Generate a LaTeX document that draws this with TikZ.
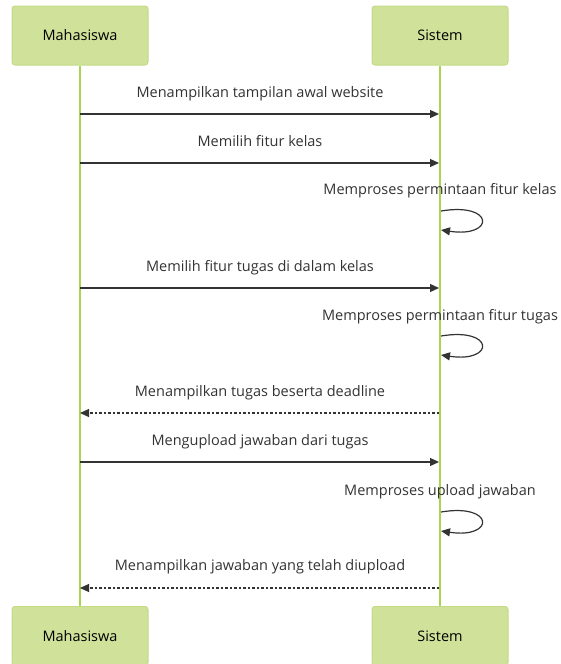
\documentclass[tikz,border=0pt]{standalone}
\usepackage{fontspec}
\setmainfont{Open Sans}
\usetikzlibrary{arrows.meta}
\definecolor{actorfill}{HTML}{D0E29A}
\definecolor{actorline}{HTML}{C2DB84}
\definecolor{lifeline}{HTML}{AAD451}
\definecolor{ink}{HTML}{333333}
\tikzset{
  actor/.style={draw=actorline, fill=actorfill, line width=1pt, rounded corners=3pt,
    minimum width=136pt, minimum height=59pt, inner sep=0pt,
    font=\fontsize{14.5}{16}\selectfont, text=black},
  life/.style={draw=lifeline, line width=2pt},
  msg/.style={draw=ink, line width=1.2pt, -{Triangle[length=9pt,width=8pt]}},
  reply/.style={msg, dash pattern=on 2.5pt off 2pt},
  lbl/.style={font=\fontsize{14.5}{16}\selectfont, text=ink, inner sep=0pt, anchor=base},
}
\begin{document}
\begin{tikzpicture}[x=1pt,y=-1pt]
\useasboundingbox (0,0) rectangle (561,664);
% actors
\node[actor] (mt) at (80,35.5) {Mahasiswa};
\node[actor] (st) at (440,35.5) {Sistem};
\node[actor] (mb) at (80,636) {Mahasiswa};
\node[actor] (sb) at (440,636) {Sistem};
% lifelines
\draw[life] (mt.south) -- (mb.north);
\draw[life] (st.south) -- (sb.north);
% rows of messages
\foreach \n/\y in {1/114, 2/163, 4/288, 6/413, 7/462, 9/588}{
  \coordinate (m\n) at (80,\y);
  \coordinate (s\n) at (439,\y);
}
\foreach \n/\y in {3/211, 5/336, 8/512}{
  \coordinate (p\n) at (441,\y);
  \coordinate (q\n) at (441,\y+19);
}
% labels
\node[lbl] (l1) at (260,97) {Menampilkan tampilan awal website};
\node[lbl] (l2) at (260,146) {Memilih fitur kelas};
\node[lbl] (l3) at (440,194) {Memproses permintaan fitur kelas};
\node[lbl] (l4) at (260,271) {Memilih fitur tugas di dalam kelas};
\node[lbl] (l5) at (440,320) {Memproses permintaan fitur tugas};
\node[lbl] (l6) at (260,396) {Menampilkan tugas beserta deadline};
\node[lbl] (l7) at (260,445) {Mengupload jawaban dari tugas};
\node[lbl] (l8) at (440,495) {Memproses upload jawaban};
\node[lbl] (l9) at (260,570) {Menampilkan jawaban yang telah diupload};
% calls
\draw[msg] (m1) -- (s1);
\draw[msg] (m2) -- (s2);
\draw[msg] (m4) -- (s4);
\draw[reply] (s6) -- (m6);
\draw[msg] (m7) -- (s7);
\draw[reply] (s9) -- (m9);
% self calls
\foreach \n in {3,5,8}{
  \draw[msg] (p\n) .. controls ([shift={(54,-9)}]p\n) and ([shift={(54,27)}]p\n) .. (q\n);
}
\end{tikzpicture}
\end{document}
